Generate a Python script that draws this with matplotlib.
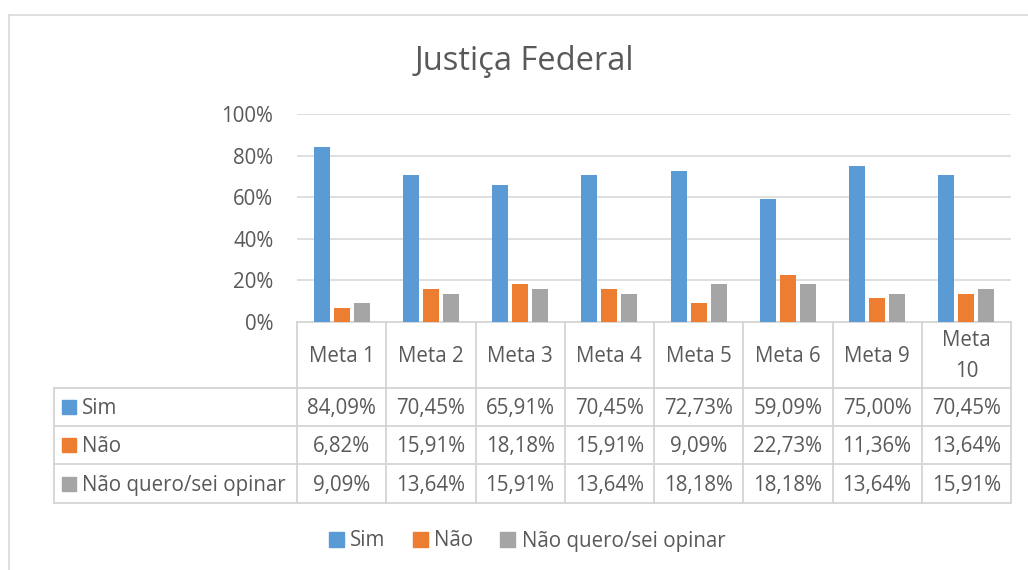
import numpy as np
import matplotlib
matplotlib.use("Agg")
import matplotlib.pyplot as plt
from matplotlib.patches import Patch

plt.rcParams["font.family"] = ["Open Sans", "DejaVu Sans"]

TITLE = "Justiça Federal"
CATEGORIES = ["Meta 1", "Meta 2", "Meta 3", "Meta 4", "Meta 5", "Meta 6", "Meta 9", "Meta\n10"]
SERIES_NAMES = ["Sim", "Não", "Não quero/sei opinar"]
SIM = [84.09, 70.45, 65.91, 70.45, 72.73, 59.09, 75.00, 70.45]
NAO = [6.82, 15.91, 18.18, 15.91, 9.09, 22.73, 11.36, 13.64]
NAO_SEI = [9.09, 13.64, 15.91, 13.64, 18.18, 18.18, 13.64, 15.91]
Y_TICKS = [0, 20, 40, 60, 80, 100]

COLORS = ["#5B9BD5", "#ED7D31", "#A5A5A5"]
TEXT = "#595959"
GRID = "#D9D9D9"

W, H = 1028, 570


def fx(px):
    return px / W


def fy(py):
    return 1 - py / H


def main():
    fig = plt.figure(figsize=(W / 100, H / 100), dpi=100)

    # pixel overlay for frame and data table
    ov = fig.add_axes([0, 0, 1, 1])
    ov.set_xlim(0, W)
    ov.set_ylim(H, 0)
    ov.axis("off")

    # plot area
    left, right, top, bottom = 297, 1011, 114, 322
    ax = fig.add_axes([fx(left), fy(bottom), fx(right - left), (bottom - top) / H])

    series = [SIM, NAO, NAO_SEI]
    x = np.arange(len(CATEGORIES))
    offsets = [-0.225, 0, 0.225]
    for vals, off, color, name in zip(series, offsets, COLORS, SERIES_NAMES):
        ax.bar(x + off, np.array(vals) / 100, width=0.18, color=color, label=name, zorder=3)

    ax.set_xlim(-0.5, len(CATEGORIES) - 0.5)
    ax.set_ylim(0, 1)
    ax.set_yticks([t / 100 for t in Y_TICKS])
    ax.set_yticklabels([f"{t}%" for t in Y_TICKS], fontsize=14.8, color=TEXT)
    ax.tick_params(axis="y", length=0, pad=17)
    ax.set_xticks([])
    for s in ax.spines.values():
        s.set_visible(False)
    ax.grid(axis="y", color=GRID, linewidth=1.2, zorder=0)
    ax.set_facecolor("none")

    fig.text(fx(524), fy(61), TITLE, fontsize=23.5, color=TEXT, ha="center", va="center")

    # chart frame (cropped)
    ov.plot([9, W], [15, 15], color=GRID, lw=1.2)
    ov.plot([9, 9], [15, H], color=GRID, lw=1.2)

    # data table
    border = "#D4D4D4"
    col_w = (right - left) / len(CATEGORIES)
    rows = [322, 388, 426, 464, 503]
    ov.plot([left, right], [rows[0], rows[0]], color=border, lw=1.3)
    for ry in rows[1:]:
        ov.plot([54, right], [ry, ry], color=border, lw=1.3)
    for i in range(len(CATEGORIES) + 1):
        cx = left + i * col_w
        ov.plot([cx, cx], [rows[0], rows[-1]], color=border, lw=1.3)
    ov.plot([54, 54], [rows[1], rows[-1]], color=border, lw=1.3)

    for i, cat in enumerate(CATEGORIES):
        cx = left + (i + 0.5) * col_w
        ov.text(cx, (rows[0] + rows[1]) / 2 + 1, cat, fontsize=14.8, color=TEXT,
                ha="center", va="center", linespacing=1.65)
        for r, vals in enumerate(series):
            cy = (rows[r + 1] + rows[r + 2]) / 2 + 1.5
            label = f"{vals[i]:.2f}%".replace(".", ",")
            ov.text(cx, cy, label, fontsize=14.8, color=TEXT, ha="center", va="center")

    for r, (name, color) in enumerate(zip(SERIES_NAMES, COLORS)):
        cy = (rows[r + 1] + rows[r + 2]) / 2
        ov.add_patch(plt.Rectangle((62, cy - 7), 14, 14, color=color))
        ov.text(82, cy + 1.5, name, fontsize=14.8, color=TEXT, ha="left", va="center")

    handles = [Patch(color=c) for c in COLORS]
    fig.legend(handles, SERIES_NAMES, loc="center", bbox_to_anchor=(fx(527), fy(541)),
               ncol=3, frameon=False, fontsize=14.8, labelcolor=TEXT,
               handlelength=0.75, handleheight=0.75, handletextpad=0.3,
               columnspacing=1.3)

    fig.savefig("out.png", dpi=100)


if __name__ == "__main__":
    main()
